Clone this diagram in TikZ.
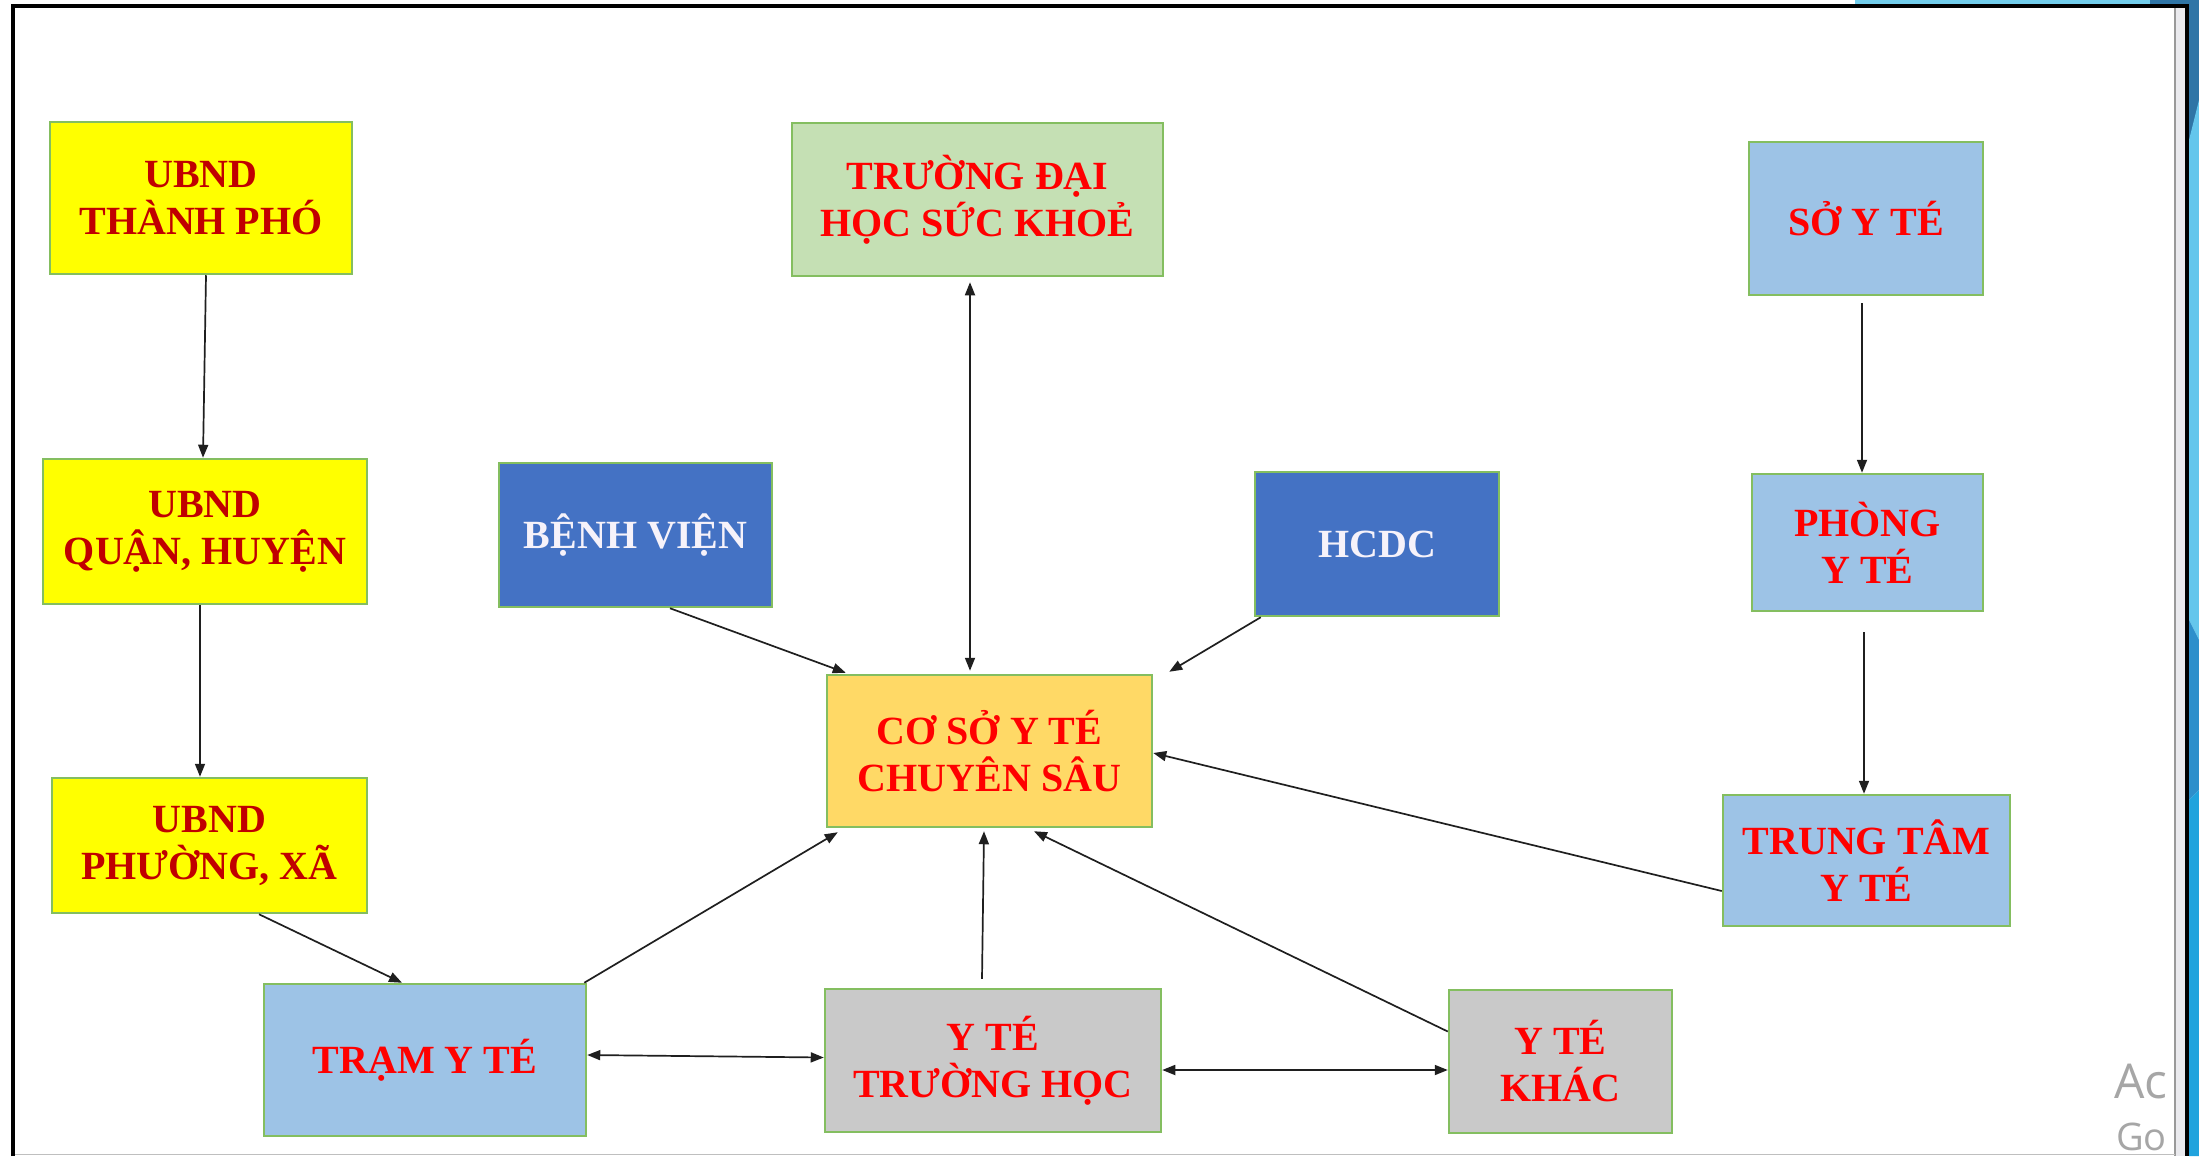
\documentclass[tikz,border=0pt]{standalone}
\usepackage{fontspec}
\setmainfont{Liberation Serif}
\newfontfamily\uifont{Open Sans}
\usetikzlibrary{arrows.meta}

\definecolor{boxline}{RGB}{132,190,96}
\definecolor{ubndfill}{RGB}{255,255,0}
\definecolor{greenfill}{RGB}{197,224,180}
\definecolor{bluefill}{RGB}{68,114,196}
\definecolor{skyfill}{RGB}{157,195,230}
\definecolor{goldfill}{RGB}{255,217,102}
\definecolor{greyfill}{RGB}{201,201,201}
\definecolor{txtred}{RGB}{255,0,0}
\definecolor{txtdark}{RGB}{192,0,0}
\definecolor{txtwhite}{RGB}{246,242,250}
\definecolor{deco1}{RGB}{47,117,166}
\definecolor{deco2}{RGB}{100,198,236}
\definecolor{deco3}{RGB}{46,143,203}
\definecolor{deco4}{RGB}{32,163,221}
\definecolor{deco5}{RGB}{114,205,235}
\definecolor{scroll}{RGB}{234,234,238}

\tikzset{
  box/.style={draw=boxline, line width=2.5pt, inner sep=0pt, align=center,
    font=\bfseries\fontsize{40}{47}\selectfont, text=txtred},
  arr/.style={draw=black!88, line width=1.7pt, -{Triangle[length=13pt,width=10pt]}},
  darr/.style={draw=black!88, line width=1.7pt, {Triangle[length=13pt,width=10pt]}-{Triangle[length=13pt,width=10pt]}},
  wmark/.style={anchor=base west, inner sep=0pt, text=black!35},
}

\begin{document}
\begin{tikzpicture}[x=1pt,y=-1pt]
\useasboundingbox (0,0) rectangle (2199,1156);
\fill[white] (0,0) rectangle (2199,1156);

% theme decoration around the window
\fill[deco5] (1855,0) rectangle (2150,4);
\fill[deco1] (2150,0) rectangle (2199,4);
\fill[deco1] (2189,0) rectangle (2199,140);
\fill[deco2] (2189,140) -- (2199,100) -- (2199,640) -- (2189,620) -- cycle;
\fill[deco3] (2189,620) -- (2199,640) -- (2199,790) -- (2189,800) -- cycle;
\fill[deco4] (2189,800) -- (2199,790) -- (2199,1156) -- (2189,1156) -- cycle;

% system watermark at the lower right
\node[wmark, font=\uifont\fontsize{48}{48}\selectfont] (wm1) at (2114,1098) {Ac};
\node[wmark, font=\uifont\fontsize{38}{38}\selectfont] (wm2) at (2116,1150) {Go};

% scroll bar strip and bottom edge
\fill[scroll] (2176,8) rectangle (2185,1156);
\draw[black!40, line width=2pt] (2175,8) -- (2175,1156);
\draw[black!25, line width=1.5pt] (15,1154.5) -- (2175,1154.5);

% window frame
\draw[black, line width=4pt] (13,1156) -- (13,6) -- (2187,6) -- (2187,1156);

% boxes
\node[box, fill=ubndfill, text=txtdark, minimum width=302pt, minimum height=152pt] (tp) at (201,198) {UBND\\THÀNH PHÓ};
\node[box, fill=ubndfill, text=txtdark, minimum width=324pt, minimum height=145pt] (qh) at (205,531.5) {UBND\\QUẬN, HUYỆN};
\node[box, fill=ubndfill, text=txtdark, minimum width=315pt, minimum height=135pt] (px) at (209.5,845.5) {UBND\\PHƯỜNG, XÃ};
\node[box, fill=skyfill, minimum width=322pt, minimum height=152pt] (tram) at (425,1060) {TRẠM Y TÉ};
\node[box, fill=greenfill, minimum width=371pt, minimum height=153pt] (dh) at (977.5,199.5) {TRƯỜNG ĐẠI\\HỌC SỨC KHOẺ};
\node[box, fill=bluefill, text=txtwhite, minimum width=273pt, minimum height=144pt] (bv) at (635.5,535) {BỆNH VIỆN};
\node[box, fill=bluefill, text=txtwhite, minimum width=244pt, minimum height=144pt] (hcdc) at (1377,544) {HCDC};
\node[box, fill=goldfill, minimum width=325pt, minimum height=152pt] (cs) at (989.5,751) {CƠ SỞ Y TÉ\\CHUYÊN SÂU};
\node[box, fill=skyfill, minimum width=234pt, minimum height=153pt] (so) at (1866,218.5) {SỞ Y TÉ};
\node[box, fill=skyfill, minimum width=231pt, minimum height=137pt] (phong) at (1867.5,542.5) {PHÒNG\\Y TÉ};
\node[box, fill=skyfill, minimum width=287pt, minimum height=131pt] (ttyt) at (1866.5,860.5) {TRUNG TÂM\\Y TÉ};
\node[box, fill=greyfill, minimum width=336pt, minimum height=143pt] (th) at (993,1060.5) {Y TÉ\\TRƯỜNG HỌC};
\node[box, fill=greyfill, minimum width=223pt, minimum height=143pt] (khac) at (1560.5,1061.5) {Y TÉ\\KHÁC};

% connectors
\draw[arr] ([xshift=5pt]tp.south) -- ([xshift=-2pt]qh.north);
\draw[arr] ([xshift=-5pt]qh.south) -- ([xshift=-9.5pt]px.north);
\draw[arr] ([xshift=49.5pt]px.south) -- ([xshift=-23pt]tram.north);
\draw[arr] ([xshift=-3pt]tram.north east) -- ([xshift=12pt,yshift=-4pt]cs.south west);
\draw[darr] ([yshift=5pt]tram.east) -- ([yshift=3pt]th.west);
\draw[arr] ([xshift=-11pt,yshift=9pt]th.north) -- ([xshift=-5.5pt,yshift=-3pt]cs.south);
\draw[darr] ([yshift=-9.5pt]th.east) -- ([yshift=-8.5pt]khac.west);
\draw[arr] ([yshift=30pt]khac.west) -- ([xshift=44.5pt,yshift=-3pt]cs.south);
\draw[arr] ([yshift=-30.5pt]ttyt.west) -- ([yshift=-2pt]cs.east);
\draw[darr] ([xshift=-7.5pt,yshift=-5pt]dh.south) -- ([xshift=-19.5pt,yshift=3pt]cs.north);
\draw[arr] ([xshift=34.5pt]bv.south) -- ([xshift=20pt,yshift=1pt]cs.north west);
\draw[arr] ([xshift=7pt]hcdc.south west) -- ([xshift=16pt,yshift=2pt]cs.north east);
\draw[arr] ([xshift=-4pt,yshift=-7pt]so.south) -- ([xshift=-5.5pt]phong.north);
\draw[arr] ([xshift=-3.5pt,yshift=-20pt]phong.south) -- ([xshift=-2.5pt]ttyt.north);
\end{tikzpicture}
\end{document}
